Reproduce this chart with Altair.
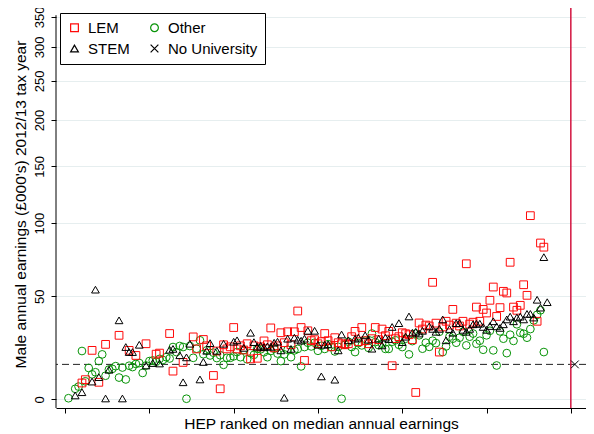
import altair as alt
import pandas as pd

# ---------------- data (earnings in £000s, HEP rank on x) ----------------
other_rank = [1, 3, 4, 5, 6, 7, 8, 9, 10, 11, 12, 13, 14, 15, 16, 17, 18, 19, 20, 21,
              22, 23, 24, 25, 26, 27, 28, 29, 30, 31, 32, 33, 34, 35, 36, 37, 38, 39, 40, 41,
              42, 43, 44, 45, 46, 47, 48, 49, 50, 51, 52, 53, 54, 55, 56, 57, 58, 59, 60, 61,
              62, 63, 64, 65, 66, 67, 68, 69, 70, 71, 72, 73, 74, 75, 76, 77, 78, 79, 80, 81,
              82, 83, 84, 85, 86, 87, 88, 89, 90, 91, 92, 93, 94, 95, 96, 97, 98, 99, 100, 101,
              102, 103, 104, 105, 106, 107, 108, 109, 110, 111, 112, 113, 114, 115, 116, 117, 118, 119, 120, 121,
              122, 123, 124, 125, 126, 127, 128, 129, 130, 131, 132, 133, 134, 135, 136, 137, 138, 139, 140, 141,
              142]
other_val = [0.5, 4.3, 5.2, 21.0, 7.4, 13.2, 10.4, 11.3, 16.3, 19.4, 9.8, 12.5, 12.8, 14.0, 9.0, 13.4, 8.2, 14.2, 13.6, 15.0,
             15.4, 11.0, 14.3, 16.3, 16.6, 16.0, 17.3, 16.8, 18.1, 17.5, 22.9, 20.5, 23.4, 22.9, 0.3, 23.4, 17.8, 22.1, 26.2, 19.5,
             21.3, 18.9, 20.2, 17.7, 19.0, 14.6, 17.8, 17.8, 18.5, 20.5, 18.1, 21.5, 17.1, 20.0, 19.2, 22.1, 21.8, 20.4, 18.1, 21.0,
             22.1, 19.8, 16.3, 19.4, 21.6, 18.1, 21.3, 22.0, 13.9, 22.9, 25.0, 23.2, 25.0, 21.1, 23.5, 22.0, 24.3, 22.9, 20.8, 23.0,
             0.3, 24.0, 25.5, 22.9, 20.5, 24.8, 23.7, 26.0, 22.5, 29.6, 25.3, 23.8, 24.5, 22.0, 22.0, 25.5, 26.2, 24.0, 22.9, 27.0,
             19.4, 25.8, 29.6, 28.7, 22.1, 25.0, 23.0, 26.0, 24.8, 30.5, 20.5, 23.2, 28.0, 27.0, 25.0, 27.5, 30.5, 23.7, 28.0, 29.6,
             24.5, 26.0, 21.6, 28.7, 31.0, 21.3, 14.3, 30.7, 27.0, 20.0, 29.0, 25.9, 34.4, 30.0, 29.5, 27.5, 31.9, 36.5, 39.5, 42.0,
             20.5]

stem_rank = [3, 5, 8, 9, 10, 12, 13, 16, 17, 18, 19, 20, 22, 24, 26, 28, 31, 32, 34, 35,
             36, 37, 40, 41, 42, 43, 45, 47, 50, 51, 53, 55, 56, 57, 58, 59, 60, 61, 62, 63,
             64, 65, 66, 67, 68, 69, 70, 71, 72, 74, 75, 76, 77, 78, 80, 81, 82, 84, 86, 87,
             89, 90, 91, 93, 94, 95, 96, 97, 99, 100, 101, 102, 103, 104, 105, 106, 108, 109, 110, 111,
             112, 113, 114, 115, 116, 117, 118, 119, 120, 121, 122, 123, 124, 125, 126, 127, 128, 129, 130, 131,
             132, 133, 134, 135, 136, 137, 138, 139, 140, 141, 142, 143]
stem_val = [1.6, 2.9, 7.3, 54.0, 9.2, 0.4, 12.4, 36.5, 0.4, 22.9, 20.5, 20.5, 24.0, 14.3, 15.4, 15.2, 21.6, 22.0, 19.0, 7.0,
            18.0, 24.5, 8.2, 15.9, 21.1, 24.8, 21.1, 24.5, 25.5, 26.2, 22.5, 30.0, 25.3, 23.0, 23.5, 22.8, 23.2, 23.0, 25.0, 25.5,
            21.3, 0.7, 27.0, 22.0, 27.5, 26.5, 26.0, 27.0, 31.0, 31.0, 24.0, 9.5, 24.0, 24.2, 8.1, 21.3, 29.1, 26.2, 27.0, 27.5,
            28.7, 26.5, 22.1, 27.0, 23.7, 27.5, 26.8, 33.0, 35.0, 25.3, 28.0, 38.6, 30.0, 30.5, 29.6, 31.0, 33.3, 32.0, 30.5, 32.0,
            37.0, 26.2, 31.9, 30.0, 35.0, 35.0, 31.5, 30.5, 32.0, 34.4, 34.7, 34.7, 33.0, 31.5, 33.5, 36.0, 33.3, 32.5, 34.4, 37.0,
            38.5, 36.0, 38.0, 38.5, 37.0, 40.0, 40.0, 38.0, 48.0, 43.5, 75.0, 46.6]

lem_rank = [5, 6, 8, 10, 12, 16, 19, 21, 24, 27, 28, 31, 32, 35, 38, 39, 41, 42, 44, 45,
            46, 47, 48, 49, 50, 51, 52, 53, 54, 55, 56, 57, 58, 59, 60, 61, 62, 63, 64, 65,
            66, 67, 68, 69, 70, 71, 72, 73, 74, 75, 76, 77, 78, 79, 80, 81, 82, 83, 84, 85,
            86, 87, 88, 89, 90, 91, 92, 93, 94, 95, 96, 97, 98, 99, 100, 101, 102, 103, 104, 105,
            106, 107, 108, 109, 110, 111, 112, 113, 114, 115, 116, 117, 118, 119, 120, 121, 122, 123, 124, 125,
            126, 127, 128, 129, 130, 131, 132, 133, 134, 135, 136, 137, 138, 140, 141, 142]
lem_val = [6.7, 8.1, 21.3, 7.0, 24.2, 28.7, 21.3, 18.9, 24.5, 19.5, 20.0, 29.6, 11.8, 15.7, 27.9, 22.0, 26.6, 23.5, 9.9, 21.0,
           4.3, 24.0, 22.0, 23.0, 32.7, 22.0, 23.5, 21.5, 24.5, 17.3, 23.5, 17.6, 23.0, 25.9, 24.0, 32.5, 22.5, 23.5, 30.0, 25.0,
           30.5, 24.0, 30.5, 41.6, 32.7, 16.6, 31.0, 26.0, 26.5, 24.5, 25.5, 29.6, 26.0, 23.0, 27.5, 25.0, 24.5, 24.0, 24.5, 28.0,
           30.7, 25.5, 32.7, 26.0, 24.5, 27.0, 32.7, 26.5, 31.9, 28.5, 30.7, 14.2, 27.0, 28.0, 30.0, 29.5, 29.0, 26.5, 2.8, 35.1,
           31.9, 34.0, 33.5, 58.5, 35.0, 20.5, 33.0, 36.0, 34.0, 42.5, 35.0, 33.5, 36.0, 70.5, 34.5, 35.5, 43.8, 36.0, 42.5, 40.5,
           47.7, 55.6, 38.6, 43.5, 53.0, 52.0, 71.5, 43.8, 42.0, 44.8, 57.0, 50.6, 106.0, 36.0, 85.0, 82.0]

nouni_rank = [151.2]
nouni_val = [14.8]          # median earnings, no university
ref_line_rank = [150]       # vertical separator
y_axis_span = [-3.4, 353]   # extent of the drawn y axis line

# legend is laid out column by column: LEM/STEM left, Other/No University right
groups = ["LEM", "STEM", "Other", "No University"]
group_colors = ["#FF0A0A", "#000000", "#089408", "#000000"]
group_shapes = ["square", "triangle-up", "circle", "M-1,-1L1,1M1,-1L-1,1"]

y_ticks = [0, 50, 100, 150, 200, 250, 300, 350]
x_ticks = [0, 25, 50, 75, 100, 125, 150]

rows = []
for g, rs, vs in [("Other", other_rank, other_val),
                  ("LEM", lem_rank, lem_val),
                  ("STEM", stem_rank, stem_val),
                  ("No University", nouni_rank, nouni_val)]:
    rows += [{"rank": r, "earn": v, "group": g} for r, v in zip(rs, vs)]
df = pd.DataFrame(rows)

FONT = "Liberation Sans"
xscale = alt.Scale(domain=[-2.7, 154.5], nice=False, zero=False)
yscale = alt.Scale(type="symlog", constant=100, domain=[-3.4, 366], nice=False, zero=False)

x_axis = alt.Axis(values=x_ticks, labels=False, grid=False, tickSize=5, tickColor="black",
                  domainColor="black", title="HEP ranked on median annual earnings",
                  titleFontSize=15.5, titleFontWeight="normal", titleColor="black",
                  titlePadding=3, titleFont=FONT)
y_axis = alt.Axis(values=y_ticks, grid=True, gridColor="#E6EEEF", gridWidth=1, domain=False,
                  tickSize=5, tickColor="black",
                  labelAngle=270, labelAlign="center", labelBaseline="bottom",
                  labelFontSize=13, labelColor="black", labelPadding=5, labelFont=FONT,
                  title="Male annual earnings (£000's) 2012/13 tax year",
                  titleFontSize=15.5, titleFontWeight="normal", titleColor="black",
                  titleFont=FONT, titleAngle=270, titleAlign="center", titleBaseline="middle",
                  titleX=-36, titleY=196)

legend = alt.Legend(title=None, orient="none", legendX=4, legendY=5, columns=2,
                    strokeColor="black", fillColor="white", padding=7,
                    labelFontSize=15, labelFont=FONT, labelColor="black", labelOffset=6,
                    symbolSize=60, symbolStrokeWidth=1.2, columnPadding=17, rowPadding=5)

points = alt.Chart(df).mark_point(filled=False, strokeWidth=1, size=60, opacity=1).encode(
    x=alt.X("rank:Q", scale=xscale, axis=x_axis),
    y=alt.Y("earn:Q", scale=yscale, axis=y_axis),
    color=alt.Color("group:N", scale=alt.Scale(domain=groups, range=group_colors), legend=legend),
    shape=alt.Shape("group:N", scale=alt.Scale(domain=groups, range=group_shapes), legend=legend),
)

yline = alt.Chart(pd.DataFrame({"lo": [y_axis_span[0]], "hi": [y_axis_span[1]]})).mark_rule(
    color="black", strokeWidth=1).encode(
    x=alt.value(0),
    y=alt.Y("lo:Q", scale=yscale),
    y2="hi:Q")

dashed = alt.Chart(pd.DataFrame({"earn": nouni_val})).mark_rule(
    color="#222222", strokeDash=[7, 4], strokeWidth=1).encode(
    y=alt.Y("earn:Q", scale=yscale))

vline = alt.Chart(pd.DataFrame({"rank": ref_line_rank})).mark_rule(
    color="#D3143F", strokeWidth=1.5).encode(
    x=alt.X("rank:Q", scale=xscale))

chart = alt.layer(yline, dashed, vline, points).properties(
    width=530, height=400,
    autosize=alt.AutoSizeParams(type="none"),
    padding={"left": 48, "top": 0, "right": 0, "bottom": 24},
).configure(font=FONT).configure_view(stroke=None)

chart.save("out.html", embed_options={"renderer": "svg", "actions": False})
